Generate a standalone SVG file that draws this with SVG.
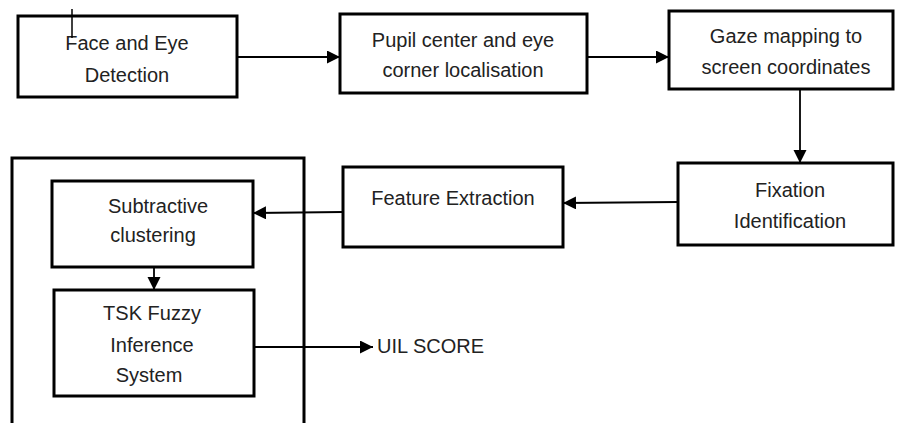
<svg xmlns="http://www.w3.org/2000/svg" width="897" height="423" viewBox="0 0 897 423">
<style>
.box{fill:#fff;stroke:#000;stroke-width:3}
.t{font-family:"Liberation Sans",Arial,sans-serif;font-size:20px;fill:#222;text-anchor:middle}
.c{fill:none;stroke:#000;stroke-width:1.8}
</style>
<defs>
<marker id="ah" markerUnits="userSpaceOnUse" markerWidth="14" markerHeight="14" refX="13" refY="6.5" orient="auto">
<path d="M0,0 L13,6.5 L0,13 z" fill="#000"/>
</marker>
</defs>
<rect width="897" height="423" fill="#fff"/>
<g id="outer">
<path d="M12,430 L12,158 L304,158 L304,430" fill="none" stroke="#000" stroke-width="3"/>
</g>
<g id="face">
<rect class="box" x="18" y="16" width="219" height="81"/>
<text class="t" x="127" y="50">Face and Eye</text>
<text class="t" x="127" y="82">Detection</text>
<line x1="72" y1="9" x2="72" y2="38" stroke="#000" stroke-width="1.5"/>
</g>
<g id="pupil">
<rect class="box" x="340" y="14" width="247" height="79"/>
<text class="t" x="463" y="47">Pupil center and eye</text>
<text class="t" x="463" y="77">corner localisation</text>
</g>
<g id="gaze">
<rect class="box" x="669" y="11" width="224" height="78"/>
<text class="t" x="786" y="43">Gaze mapping to</text>
<text class="t" x="786" y="74">screen coordinates</text>
</g>
<g id="fixation">
<rect class="box" x="678" y="163" width="215" height="82"/>
<text class="t" x="790" y="197">Fixation</text>
<text class="t" x="790" y="228">Identification</text>
</g>
<g id="feature">
<rect class="box" x="343" y="167" width="220" height="80"/>
<text class="t" x="453" y="205">Feature Extraction</text>
</g>
<g id="subtractive">
<rect class="box" x="52" y="181" width="201" height="86"/>
<text class="t" x="158" y="213">Subtractive</text>
<text class="t" x="153" y="242">clustering</text>
</g>
<g id="tsk">
<rect class="box" x="54" y="290" width="200" height="106"/>
<text class="t" x="152" y="320">TSK Fuzzy</text>
<text class="t" x="152" y="352">Inference</text>
<text class="t" x="149" y="382">System</text>
</g>
<g id="uil">
<text class="t" x="377" y="353" style="text-anchor:start">UIL SCORE</text>
</g>
<g id="connectors">
<path class="c" d="M237,57 L340,57" marker-end="url(#ah)"/>
<path class="c" d="M587,57 L669,57" marker-end="url(#ah)"/>
<path class="c" d="M800,89 L800,163" marker-end="url(#ah)"/>
<path class="c" d="M678,202 L563,203" marker-end="url(#ah)"/>
<path class="c" d="M343,212 L253,213" marker-end="url(#ah)"/>
<path class="c" d="M154,267 L154,290" marker-end="url(#ah)"/>
<path class="c" d="M254,347 L373,347" marker-end="url(#ah)"/>
</g>
</svg>
